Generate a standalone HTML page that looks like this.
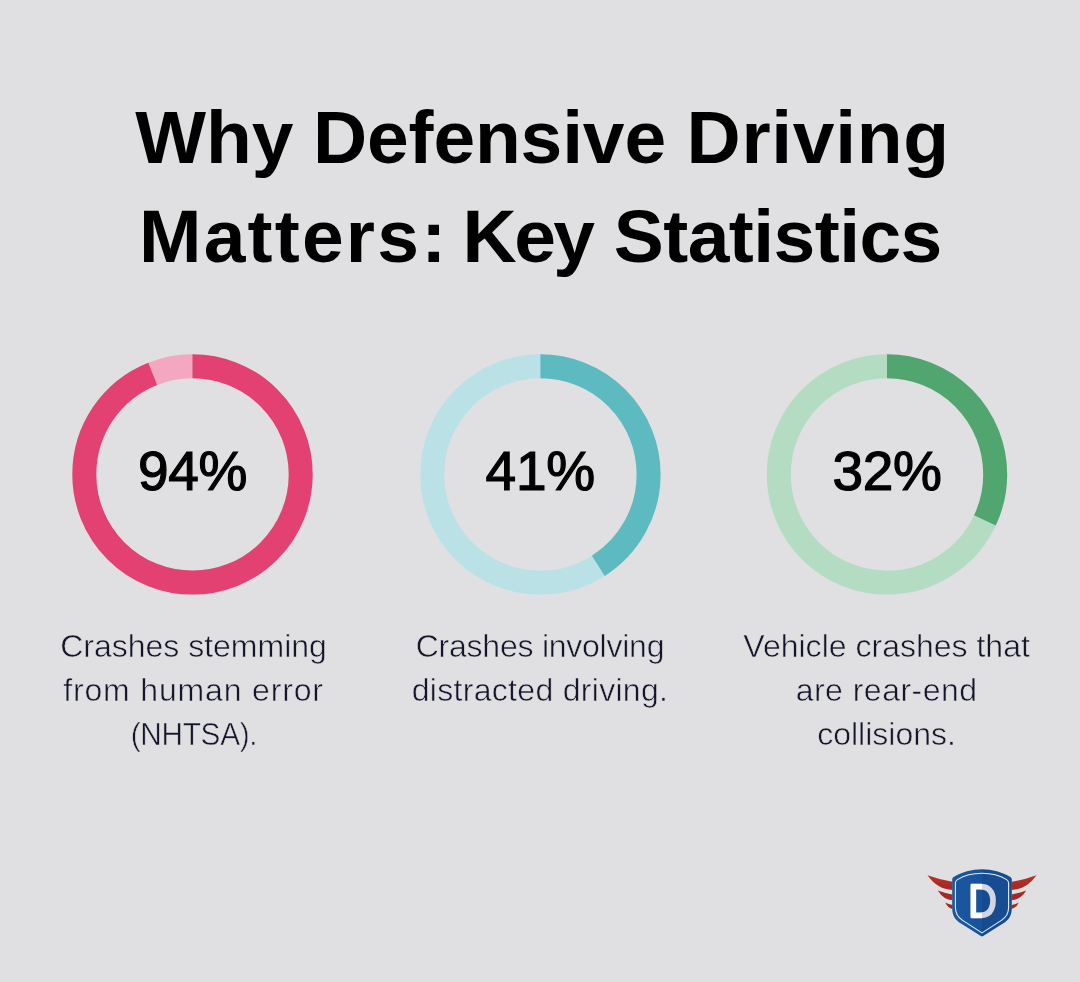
<!DOCTYPE html>
<html lang="en">
<head>
<meta charset="utf-8">
<title>Why Defensive Driving Matters: Key Statistics</title>
<style>
  html,body{margin:0;padding:0;}
  body{width:1080px;height:982px;background:#e0e0e2;position:relative;overflow:hidden;
       font-family:"Liberation Sans","DejaVu Sans",sans-serif;}
  .title{position:absolute;left:0;top:0;width:1080px;height:300px;margin:0;color:#000;
         font-weight:700;font-size:75px;line-height:98.5px;white-space:nowrap;}
  .title span{position:absolute;display:block;font-weight:700;}
  .w1,.w2,.w3{top:88.2px;}
  .w4,.w5,.w6{top:186.7px;}
  .w1{left:135.2px;letter-spacing:0;}
  .w2{left:313px;letter-spacing:-0.15px;}
  .w3{left:686.6px;letter-spacing:0.68px;}
  .w4{left:139px;letter-spacing:2.2px;}
  .w5{left:462.5px;letter-spacing:-2.5px;}
  .w6{left:613.8px;letter-spacing:-0.55px;}
  svg.rings{position:absolute;left:0;top:0;}
  .num{position:absolute;width:240px;text-align:center;font-size:55px;line-height:60px;color:#000;top:441.3px;letter-spacing:-0.3px;-webkit-text-stroke:1.2px #000;}
  .n1{left:72.5px;} .n2{left:420.2px;} .n3{left:767px;}
  .lab{position:absolute;width:340px;text-align:center;font-size:32px;line-height:44px;color:#14142a;-webkit-text-stroke:0.55px #e0e0e2;top:624.2px;margin:0;}
  .lab span{display:block;white-space:nowrap;}
  .l1{left:23.5px;} .l2{left:370px;} .l3{left:716.6px;}
  svg.logo{position:absolute;left:920px;top:862px;}
</style>
</head>
<body>
<h1 class="title"><span class="w1">Why</span> <span class="w2">Defensive</span> <span class="w3">Driving</span> <span class="w4">Matters:</span> <span class="w5">Key</span> <span class="w6">Statistics</span></h1>

<svg class="rings" width="1080" height="982" viewBox="0 0 1080 982">
  <g fill="none" stroke-width="24">
    <circle cx="192.5" cy="474.4" r="108.2" stroke="#f4a7c0" pathLength="100" stroke-dasharray="6.6 93.4" stroke-dashoffset="-93.7" transform="rotate(-90 192.5 474.4)"/>
    <circle cx="540.4" cy="474.4" r="108.2" stroke="#bae2e6" pathLength="100" stroke-dasharray="59.6 40.4" stroke-dashoffset="-40.7" transform="rotate(-90 540.4 474.4)"/>
    <circle cx="887" cy="474.4" r="108.2" stroke="#b3dcc2" pathLength="100" stroke-dasharray="68.6 31.4" stroke-dashoffset="-31.7" transform="rotate(-90 887 474.4)"/>
    <circle cx="192.5" cy="474.4" r="108.2" stroke="#e34172" pathLength="100" stroke-dasharray="94 6" transform="rotate(-90 192.5 474.4)"/>
    <circle cx="540.4" cy="474.4" r="108.2" stroke="#5cbac0" pathLength="100" stroke-dasharray="41 59" transform="rotate(-90 540.4 474.4)"/>
    <circle cx="887" cy="474.4" r="108.2" stroke="#51a66f" pathLength="100" stroke-dasharray="32 68" transform="rotate(-90 887 474.4)"/>
  </g>
</svg>

<div class="num n1">94%</div>
<div class="num n2">41%</div>
<div class="num n3">32%</div>

<p class="lab l1"><span style="letter-spacing:0">Crashes stemming</span> <span style="letter-spacing:0.84px">from human error</span> <span style="letter-spacing:-0.3px;transform:scaleX(0.93)">(NHTSA).</span></p>
<p class="lab l2"><span style="letter-spacing:-0.24px">Crashes involving</span> <span style="letter-spacing:0.3px">distracted driving.</span></p>
<p class="lab l3"><span style="letter-spacing:0.01px">Vehicle crashes that</span> <span style="letter-spacing:0.48px">are rear-end</span> <span style="letter-spacing:0.01px">collisions.</span></p>

<svg class="logo" width="124" height="84" viewBox="920 862 124 84">
  <defs>
    <linearGradient id="shg" gradientUnits="userSpaceOnUse" x1="952" y1="0" x2="1012" y2="0">
      <stop offset="0" stop-color="#1b579f"/><stop offset="0.5" stop-color="#18529a"/><stop offset="0.5" stop-color="#154b8f"/><stop offset="1" stop-color="#174e93"/>
    </linearGradient>
    <linearGradient id="dg" gradientUnits="userSpaceOnUse" x1="969" y1="0" x2="996" y2="0">
      <stop offset="0.481" stop-color="#ffffff"/><stop offset="0.481" stop-color="#d3d5e3"/>
    </linearGradient>
    <linearGradient id="wg" gradientUnits="userSpaceOnUse" x1="0" y1="875" x2="0" y2="909">
      <stop offset="0" stop-color="#b8332a"/><stop offset="0.35" stop-color="#a62a22"/><stop offset="1" stop-color="#a32921"/>
    </linearGradient>
  </defs>
  <g fill="url(#wg)">
    <path d="M927.5,875.3 Q940,879.8 952.5,881.8 L952.5,889.9 Q937.5,889.600 927.5,875.3 Z"/>
    <path d="M937.8,890.5 Q945,893.3 952.5,894.4 L952.5,900.3 Q943.5,899.800 937.8,890.5 Z"/>
    <path d="M945.2,902.6 Q948.7,904.3 952.5,905 L952.5,908.9 Q948,908.200 945.2,902.6 Z"/>
    <path d="M1036.5,875.3 Q1024,879.8 1011.5,881.8 L1011.5,889.9 Q1026.5,889.600 1036.5,875.3 Z"/>
    <path d="M1026.2,890.5 Q1019,893.3 1011.5,894.4 L1011.5,900.3 Q1020.5,899.800 1026.2,890.5 Z"/>
    <path d="M1018.8,902.6 Q1015.3,904.3 1011.5,905 L1011.5,908.9 Q1016,908.200 1018.8,902.6 Z"/>
  </g>

  <path fill="url(#shg)" d="M982,869.2 C972,869.2 961.5,872 953.6,877 Q952.2,877.9 952.2,879.6 L952.2,908 C952.2,915.5 955,919.8 961,923.6 L980.8,936.1 Q982,936.9 983.2,936.1 L1003,923.6 C1009,919.8 1011.8,915.5 1011.8,908 L1011.8,879.6 Q1011.8,877.9 1010.4,877 C1002.5,872 992,869.2 982,869.2 Z"/>
  <path fill="none" stroke="#e3ecf9" stroke-width="1.1" stroke-linejoin="round" d="M982,873.3 C973,873.3 964,875.6 957.4,879.6 Q955.4,880.8 955.4,883.2 L955.4,907.5 C955.4,913.5 957.8,917.2 962.6,920.4 L982,932.9 L1001.4,920.4 C1006.2,917.2 1008.6,913.5 1008.6,907.5 L1008.6,883.2 Q1008.6,880.8 1006.6,879.6 C1000,875.6 991,873.3 982,873.3 Z"/>
  <text x="982.6" y="917.4" text-anchor="middle" font-family="'Liberation Sans','DejaVu Sans',sans-serif" font-weight="400" font-size="47" fill="url(#dg)" stroke="url(#dg)" stroke-width="2.3" stroke-linejoin="round" transform="translate(982.6 0) scale(0.84 1) translate(-982.6 0)">D</text>
</svg>

</body>
</html>
